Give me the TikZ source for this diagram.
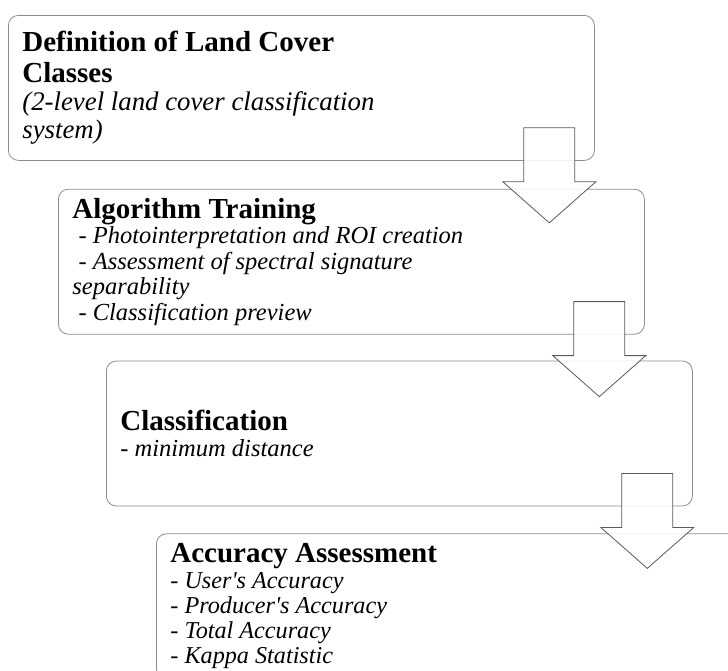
\documentclass[tikz,border=0pt]{standalone}
\usepackage{fontspec}
\setmainfont{Liberation Serif}[Ligatures=TeXOff]
\usetikzlibrary{positioning}

\newcommand{\steptitle}[1]{{\fontsize{29}{31}\selectfont\bfseries\spaceskip=0pt\xspaceskip=0pt #1\par}}
\newcommand{\stepnote}[2][24.5]{{\fontsize{#1}{1.04\dimexpr#1pt\relax}\selectfont\spaceskip=0pt\xspaceskip=0pt #2\par}}
\newcommand{\flowarrow}[1]{%
  \draw[blockarrow] ([shift={(-71pt,33pt)}]#1.south east) -- ++(51pt,0) -- ++(0,-54pt)
    -- ++(21pt,0) -- ++(-46.5pt,-41pt) -- ++(-46.5pt,41pt) -- ++(21pt,0) -- cycle;}

\begin{document}
\begin{tikzpicture}[
            stepbox/.style={rectangle, rounded corners=10pt, draw=gray!90, line width=0.8pt, fill=white,
                minimum width=586pt, minimum height=145pt, text width=558pt, inner xsep=14pt,
                align=left, anchor=north west},
            blockarrow/.style={draw=black!65, line width=0.8pt, fill=white, fill opacity=0.88},
        ]
        \useasboundingbox (0,0) rectangle (728pt,-670pt);
        \clip (0,0) rectangle (728pt,-670pt);

        \node[stepbox] (classes) at (8pt,-15pt) {%
            \steptitle{Definition of Land Cover\\Classes}%
            \stepnote[26.8]{\itshape (2-level land cover classification\\system)}};
        \node[stepbox] (training) [below=28pt of classes.south west, anchor=north west, xshift=50pt] {%
            \steptitle{Algorithm Training}%
            \stepnote{\hspace{0.25em}- \textit{Photointerpretation and ROI creation}\\
                \hspace{0.25em}- \textit{Assessment of spectral signature}\\
                \textit{separability}\\
                \hspace{0.25em}- \textit{Classification preview}}};
        \node[stepbox] (classify) [below=26pt of training.south west, anchor=north west, xshift=48pt] {%
            \steptitle{Classification}%
            \stepnote{- \textit{minimum distance}}};
        \node[stepbox] (accuracy) [below=27pt of classify.south west, anchor=north west, xshift=50pt] {%
            \steptitle{Accuracy Assessment}%
            \stepnote[24.2]{- \textit{User's Accuracy}\\
                - \textit{Producer's Accuracy}\\
                - \textit{Total Accuracy}\\
                - \textit{Kappa Statistic}}};

        % arrows between the steps
        \flowarrow{classes}
        \flowarrow{training}
        \flowarrow{classify}
    \end{tikzpicture}
\end{document}
